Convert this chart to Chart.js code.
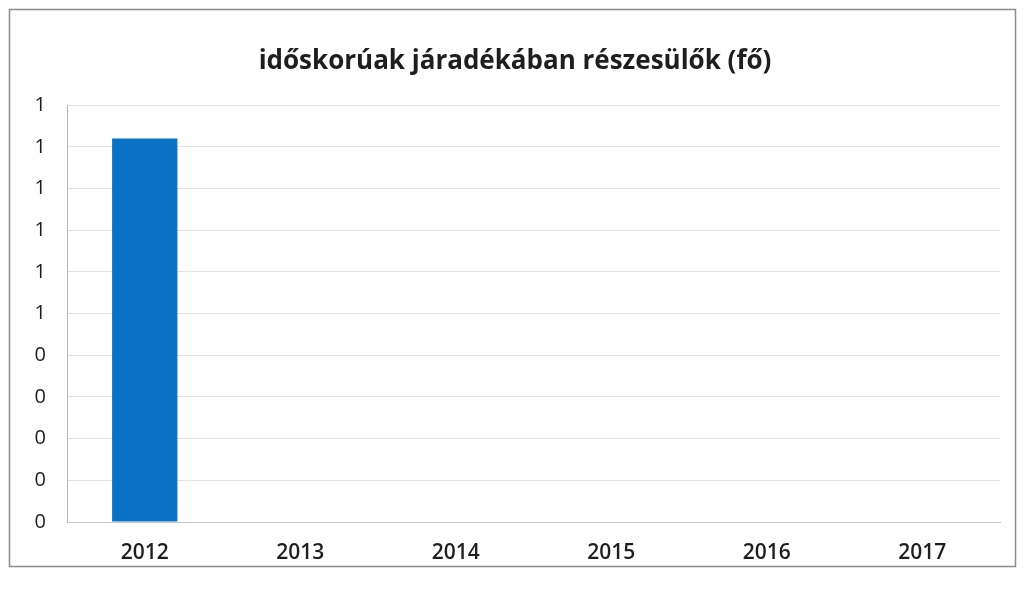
<!DOCTYPE html>
<html>
<head>
<meta charset="utf-8">
<script src="https://cdn.jsdelivr.net/npm/chart.js@4/dist/chart.umd.min.js"></script>
<style>
  body { margin: 0; background: #fff; }
</style>
</head>
<body>
<canvas id="chart" width="1025" height="592"></canvas>
<script>
"use strict";

// data
const years = ['2012', '2013', '2014', '2015', '2016', '2017'];
const recipients = [0.92, 0, 0, 0, 0, 0];
const yTickLabels = ['0', '0', '0', '0', '0', '1', '1', '1', '1', '1', '1'];

const frame = {
    id: 'frame',
    beforeDraw(chart) {
        const c = chart.ctx;
        c.save();
        c.fillStyle = '#ffffff';
        c.fillRect(0, 0, chart.width, chart.height);
        c.strokeStyle = '#8c8c8c';
        c.lineWidth = 1.5;
        c.strokeRect(9.5, 9.5, 1006, 557);
        c.restore();
    }
};

const ctx = document.getElementById('chart');

new Chart(ctx, {
    type: 'bar',
    data: {
        labels: years,
        datasets: [{
            label: 'idősKorúak',
            data: recipients,
            backgroundColor: '#0a72c4',
            categoryPercentage: 1,
            barPercentage: 0.42
        }]
    },
    options: {
        responsive: false,
        animation: false,
        layout: { padding: { top: 10, left: 30, right: 25, bottom: 27 } },
        plugins: {
            legend: { display: false },
            tooltip: { enabled: false },
            title: {
                display: true,
                text: 'időskorúak járadékában részesülők (fő)',
                color: '#1e1e1e',
                font: { family: 'Open Sans', size: 26, weight: 'bold' },
                padding: { top: 36, bottom: 28 }
            }
        },
        scales: {
            x: {
                grid: { display: false },
                border: { color: '#c8c8c8' },
                ticks: {
                    color: '#1e1e1e',
                    padding: 10,
                    font: { family: 'Open Sans', size: 21, weight: '600' }
                },
                afterFit: (scale) => { scale.height = 43; }
            },
            y: {
                min: 0,
                max: 1,
                grid: { color: '#e2e2e2', drawTicks: false },
                border: { color: '#b4b4b4' },
                ticks: {
                    stepSize: 0.1,
                    padding: 21,
                    color: '#1e1e1e',
                    font: { family: 'Open Sans', size: 20 },
                    callback: (value, index) => yTickLabels[index]
                },
                afterFit: (scale) => { scale.width = 37; }
            }
        }
    },
    plugins: [frame]
});
</script>
</body>
</html>
